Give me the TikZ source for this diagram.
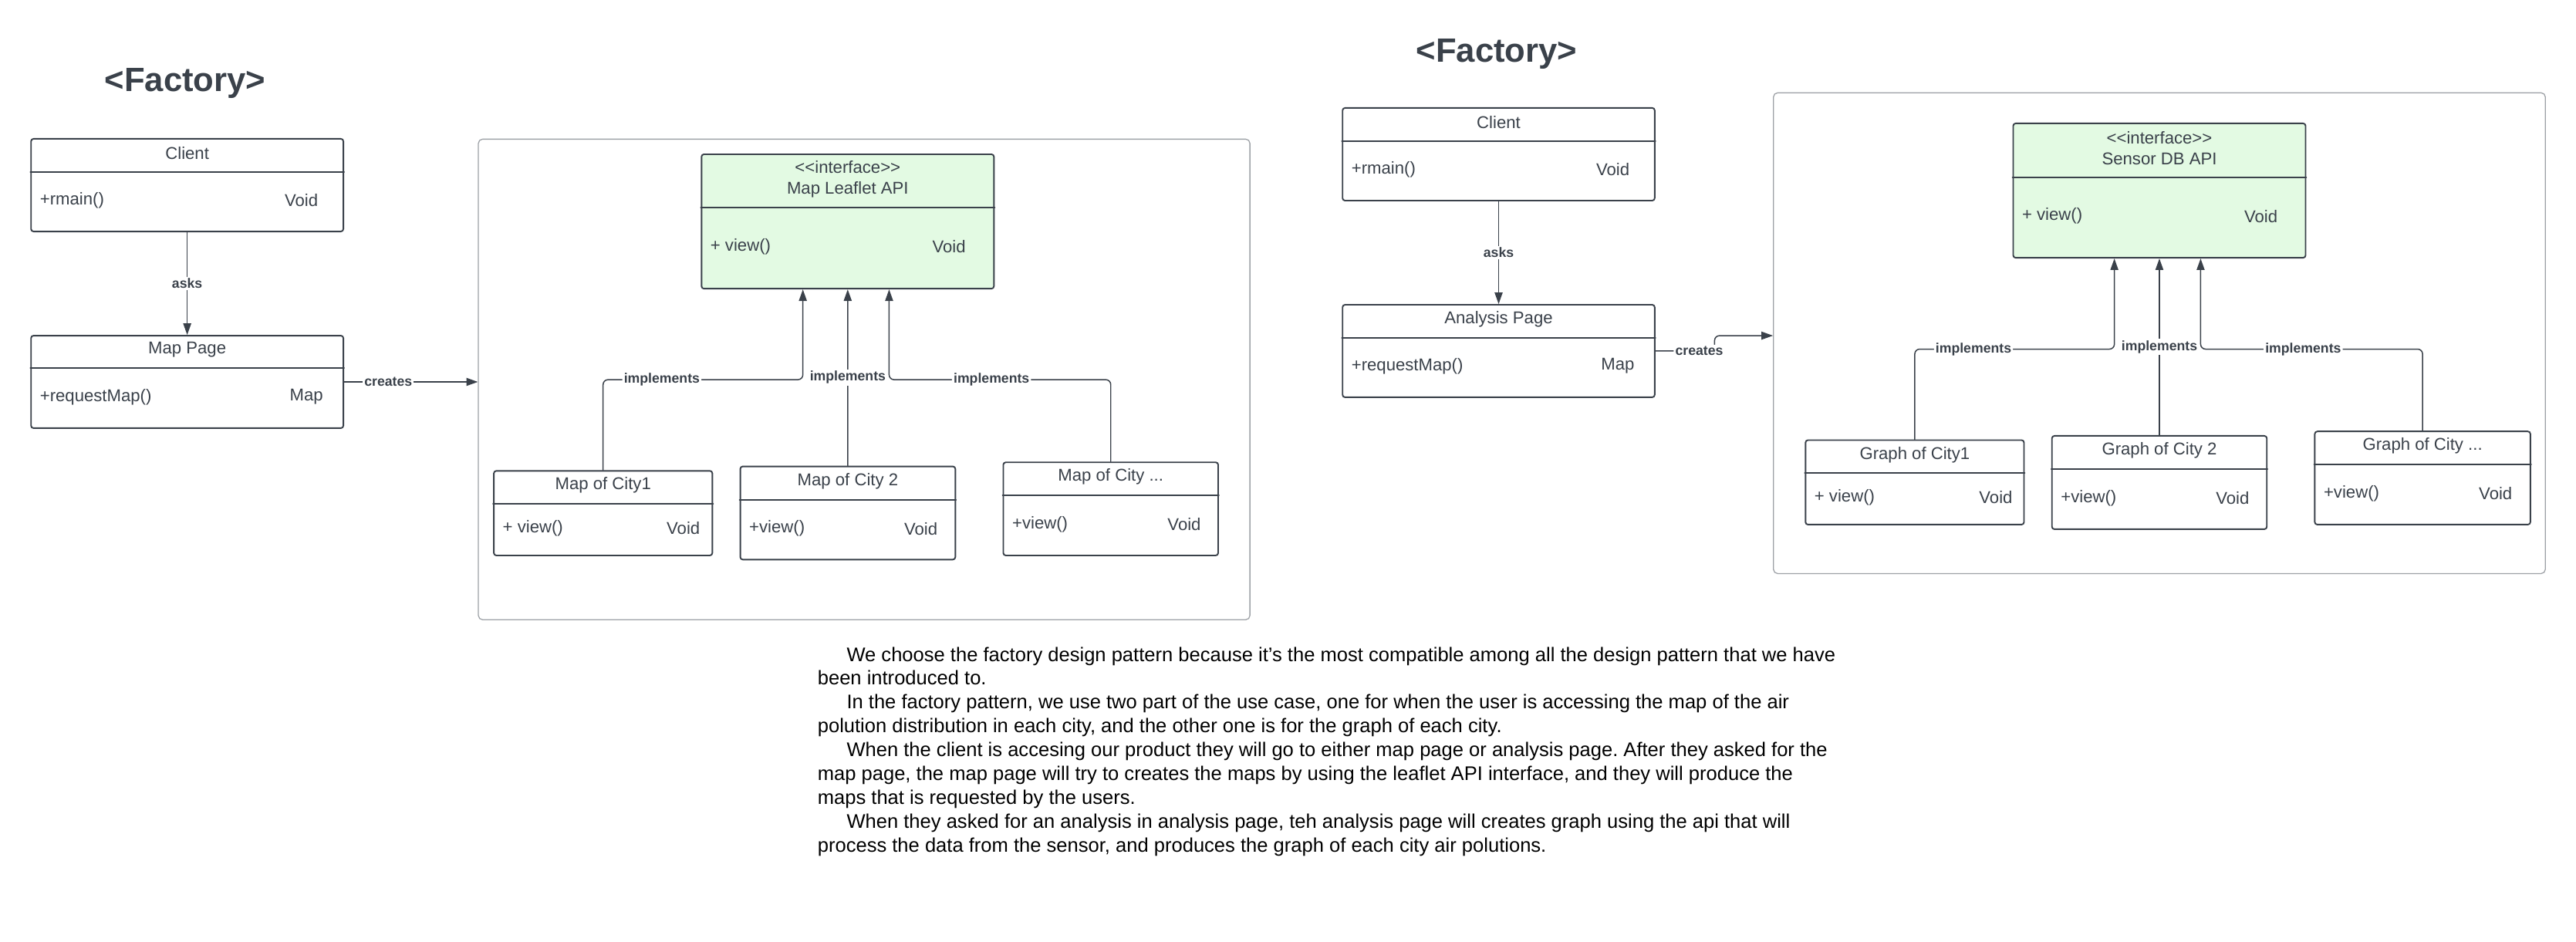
\documentclass[tikz,border=0pt]{standalone}
\usepackage{fontspec}
\setmainfont{Liberation Sans}
\usetikzlibrary{arrows.meta,fit}

\definecolor{linec}{HTML}{3A414A}
\definecolor{groupc}{HTML}{9DA1A6}
\definecolor{apigreen}{HTML}{E3FAE3}

\newcommand{\boxfont}{\fontsize{10.4}{12.7}\selectfont}
\newcommand{\lblfont}{\bfseries\fontsize{8.3}{9.8}\selectfont}

\tikzset{
	cls/.style={draw=linec, line width=0.9pt, rounded corners=1.5pt, inner sep=0pt, fill=white},
	api/.style={cls, fill=apigreen},
	divline/.style={draw=linec, line width=0.9pt},
	group/.style={draw=groupc, line width=0.6pt, rounded corners=2.5pt, inner sep=0pt},
	txt/.style={inner sep=0pt, text=linec, font=\boxfont},
	conn/.style={draw=linec, line width=0.7pt, ->},
	lbl/.style={fill=white, inner sep=1pt, text=linec, font=\lblfont},
	ttl/.style={inner sep=0pt, text=linec, font=\bfseries\fontsize{20.5}{24}\selectfont},
}

% [style]{name}{top left}{bottom right}{divider y}{title}{method}{type}{type gap}
\newcommand{\classbox}[9][cls]{%
	\node[#1, fit={(#3) (#4)}] (#2) {};
	\draw[divline] (#2.west |- 0,#5) -- (#2.east |- 0,#5);
	\path (#2.north) -- (#2.north |- 0,#5) node[txt, midway, yshift=1pt, align=center] {#6};
	\path (#2.west |- 0,#5) -- (#2.south west) node[txt, midway, anchor=west, xshift=5.7pt, yshift=1pt] {#7};
	\path (#2.east |- 0,#5) -- (#2.south east) node[txt, midway, anchor=east, xshift=-#9, yshift=1pt] {#8};
}

\begin{document}
\frenchspacing
\begin{tikzpicture}[x=1pt, y=-1pt, >={Triangle[length=7pt,width=4.8pt]}, line join=round, line cap=round]
	\useasboundingbox (0,0) rectangle (1568,573);
	\def\ind{\hspace*{17.7pt}}
	
	% map side
	\node[ttl, anchor=base] (title1) at (112.7,55.5) {<Factory>};
	\node[group, fit={(291.2,84.7) (760.8,377.2)}] (mapgroup) {};
	\classbox{client1}{18.9,84.5}{209,140.9}{104.6}{Client}{+rmain()}{Void}{15.7pt}
	\classbox{mappage}{18.9,204.3}{209,260.6}{224.1}{Map Page}{+requestMap()}{Map}{12.6pt}
	\classbox[api]{mapapi}{427,93.9}{605,175.7}{126.4}{<\kern0pt<interface>\kern0pt>\\Map Leaflet API}{+ view()}{Void}{17.5pt}
	\classbox{mc1}{300.6,286.6}{433.6,338.1}{306.8}{Map of City1}{+ view()}{Void}{7.8pt}
	\classbox{mc2}{450.6,283.9}{581.5,340.6}{304.5}{Map of City 2}{+view()}{Void}{11.1pt}
	\classbox{mc3}{610.7,281.4}{741.5,338.1}{301.5}{Map of City ...}{+view()}{Void}{10.8pt}
	
	\draw[conn] (client1.south) -- node[lbl]{asks} (mappage.north);
	\draw[conn] (mappage.east) -- node[lbl, pos=0.33]{creates} (mappage.east -| mapgroup.west);
	\coordinate (mapin1) at ([xshift=-27.3pt]mapapi.south);
	\coordinate (mapin3) at ([xshift=25.2pt]mapapi.south);
	\draw[conn, rounded corners=3pt] (mc1.north) |- node[lbl, pos=0.647]{implements} (mapin1 |- 0,231.1) -- (mapin1);
	\draw[conn] (mc2.north) -- node[lbl]{implements} (mapapi.south);
	\draw[conn, rounded corners=3pt] (mc3.north) |- node[lbl, pos=0.769]{implements} (mapin3 |- 0,231.1) -- (mapin3);
	
	% graph side
	\node[ttl, anchor=base] (title2) at (911,37.6) {<Factory>};
	\node[group, fit={(1079.5,56.5) (1549.3,349.1)}] (graphgroup) {};
	\classbox{client2}{817.2,65.7}{1007.2,122.1}{86.1}{Client}{+rmain()}{Void}{15.6pt}
	\classbox{apage}{817.2,185.5}{1007.2,241.8}{205.5}{Analysis Page}{+requestMap()}{Map}{12.6pt}
	\classbox[api]{sensorapi}{1225.4,75.1}{1403.4,156.9}{107.8}{<\kern0pt<interface>\kern0pt>\\Sensor DB API}{+ view()}{Void}{17.3pt}
	\classbox{gc1}{1099,267.9}{1232,319.3}{288}{Graph of City1}{+ view()}{Void}{7.3pt}
	\classbox{gc2}{1249,265.3}{1379.8,322.1}{285.5}{Graph of City 2}{+view()}{Void}{11pt}
	\classbox{gc3}{1409,262.6}{1540.2,319.3}{282.9}{Graph of City ...}{+view()}{Void}{11.3pt}
	
	\draw[conn] (client2.south) -- node[lbl]{asks} (apage.north);
	\draw[conn, rounded corners=3pt] (apage.east) -- ++(36,0) node[lbl, pos=0.74]{creates} |- ([yshift=-1.5pt]graphgroup.west);
	\coordinate (sensorin1) at ([xshift=-27.4pt]sensorapi.south);
	\coordinate (sensorin3) at ([xshift=25.1pt]sensorapi.south);
	\draw[conn, rounded corners=3pt] (gc1.north) |- node[lbl, pos=0.647]{implements} (sensorin1 |- 0,212.5) -- (sensorin1);
	\draw[conn] (gc2.north) -- node[lbl]{implements} (sensorapi.south);
	\draw[conn, rounded corners=3pt] (gc3.north) |- node[lbl, pos=0.769]{implements} (sensorin3 |- 0,212.5) -- (sensorin3);
	
	% explanation
	\node[inner sep=0pt, anchor=north west, align=left, font=\fontsize{12}{14.5}\selectfont] (story) at (497.5,393.6) {%
		\ind We choose the factory design pattern because it's the most compatible among all the design pattern that we have\\
		been introduced to.\\
		\ind In the factory pattern, we use two part of the use case, one for when the user is accessing the map of the air\\
		polution distribution in each city, and the other one is for the graph of each city.\\
		\ind When the client is accesing our product they will go to either map page or analysis page. After they asked for the\\
		map page, the map page will try to creates the maps by using the leaflet API interface, and they will produce the\\
		maps that is requested by the users.\\
		\ind When they asked for an analysis in analysis page, teh analysis page will creates graph using the api that will\\
		process the data from the sensor, and produces the graph of each city air polutions.};
\end{tikzpicture}
\end{document}
